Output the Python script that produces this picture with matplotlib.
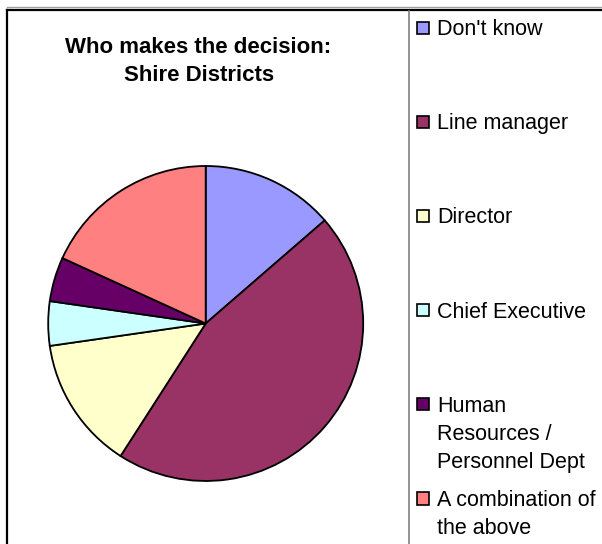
import matplotlib.pyplot as plt
from matplotlib.patches import Rectangle

# Survey responses (counts)
labels = ["Don't know", "Line manager", "Director", "Chief Executive",
          "Human\nResources /\nPersonnel Dept", "A combination of\nthe above"]
counts = [3, 10, 3, 1, 1, 4]
colors = ["#9999FF", "#993366", "#FFFFCC", "#CCFFFF", "#660066", "#FF8080"]

W, H = 602, 544
fig = plt.figure(figsize=(W / 100, H / 100), dpi=100)
ax = fig.add_axes([0, 0, 1, 1])

# pie, clockwise from 12 o'clock
ax.pie(counts, colors=colors, startangle=90, counterclock=False,
       center=(205.7, H - 323.5), radius=157.5,
       wedgeprops=dict(edgecolor="black", linewidth=1.3), frame=True)
ax.set_xlim(0, W)
ax.set_ylim(0, H)
ax.axis("off")

# chart frame and plot/legend divider
ax.plot([7, W], [H - 6.5, H - 6.5], color="#a0a0a0", lw=1.0)
ax.plot([7, 7], [0, H - 9.5], color="black", lw=1.6)
ax.plot([7, W], [H - 9.5, H - 9.5], color="black", lw=1.6)
ax.plot([408.7, 408.7], [0, H - 10.5], color="#808080", lw=1.2)

ax.text(198.6, H - 61.5, "Who makes the decision:\nShire Districts",
        ha="center", va="center", fontsize=16, fontweight="bold",
        family="Liberation Sans", linespacing=1.48)

# legend entries, evenly spaced
fs = 15.5
for i, (lab, col) in enumerate(zip(labels, colors)):
    yc = 27.8 + 94.1 * i
    ax.add_patch(Rectangle((416.5, H - yc - 6.2), 12.3, 12.3, facecolor=col,
                           edgecolor="black", lw=1.2, clip_on=False))
    ax.text(437, H - yc + 8.6, lab, ha="left", va="top", fontsize=fs,
            family="Liberation Sans", linespacing=1.45)

fig.savefig("out.png", dpi=100)
